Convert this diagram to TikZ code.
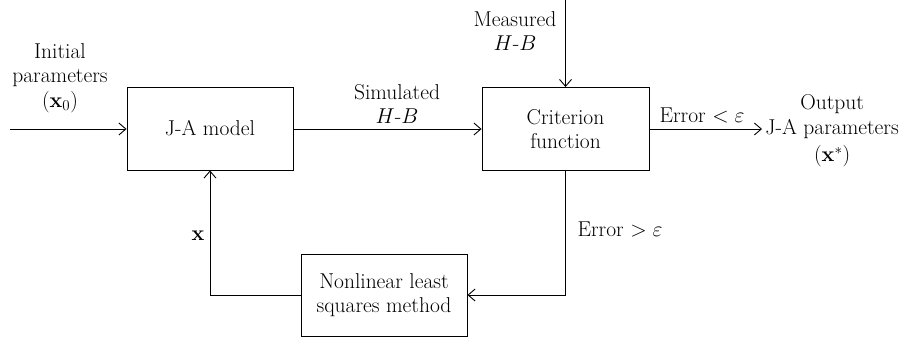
\RequirePackage{fix-cm}
\documentclass[tikz,border=0pt]{standalone}
\usepackage{tikz}
\usepackage{amsmath, amssymb}
\usetikzlibrary{arrows.meta}

\begin{document}
\begin{tikzpicture}[x = 1pt, y = -1pt, line width = 0.9pt,
  >={Straight Barb[length = 7pt, width = 12pt]},
  txt/.style = {font = \fontsize{21.5}{24.5}\selectfont, align = center, inner sep = 0pt},
  blk/.style = {txt, draw, minimum height = 83pt}]
  \useasboundingbox (0, 0) rectangle (901, 343);

  \node[blk, minimum width = 166pt] (jam) at (210, 128.5) {J-A model};
  \node[blk, minimum width = 167pt] (crit) at (565.5, 129) {Criterion\\function};
  \node[blk, minimum width = 166pt, minimum height = 82pt] (nls) at (384, 295) {Nonlinear least\\squares method};

  \coordinate (in) at (10, 129);
  \coordinate (meas) at (565.5, 0);
  \coordinate (out) at (762, 129);

  \node[txt] (init) at (60, 78) {Initial\\parameters\\$(\mathbf{x}_0)$};
  \node[txt] (mlbl) at (515, 31) {Measured\\$H$-$B$};
  \node[txt] (slbl) at (397, 104) {Simulated\\$H$-$B$};
  \node[txt] (lt) at (702, 115) {Error $<\varepsilon$};
  \node[txt, anchor = west] (res) at (765, 131) {Output\\J-A parameters\\[3pt]$(\mathbf{x}^{*})$};
  \node[txt] (xlbl) at (198, 236) {$\mathbf{x}$};
  \node[txt] (gt) at (620, 229) {Error $>\varepsilon$};

  \draw[->] (in) -- (jam.west |- in);
  \draw[->] (jam.east |- in) -- (crit.west |- in);
  \draw[->] (meas) -- (crit.north);
  \draw[->] (crit.east |- out) -- (out);
  \draw[->] (crit.south) |- (nls.east);
  \draw[->] (nls.west) -| (jam.south);
\end{tikzpicture}
\end{document}
